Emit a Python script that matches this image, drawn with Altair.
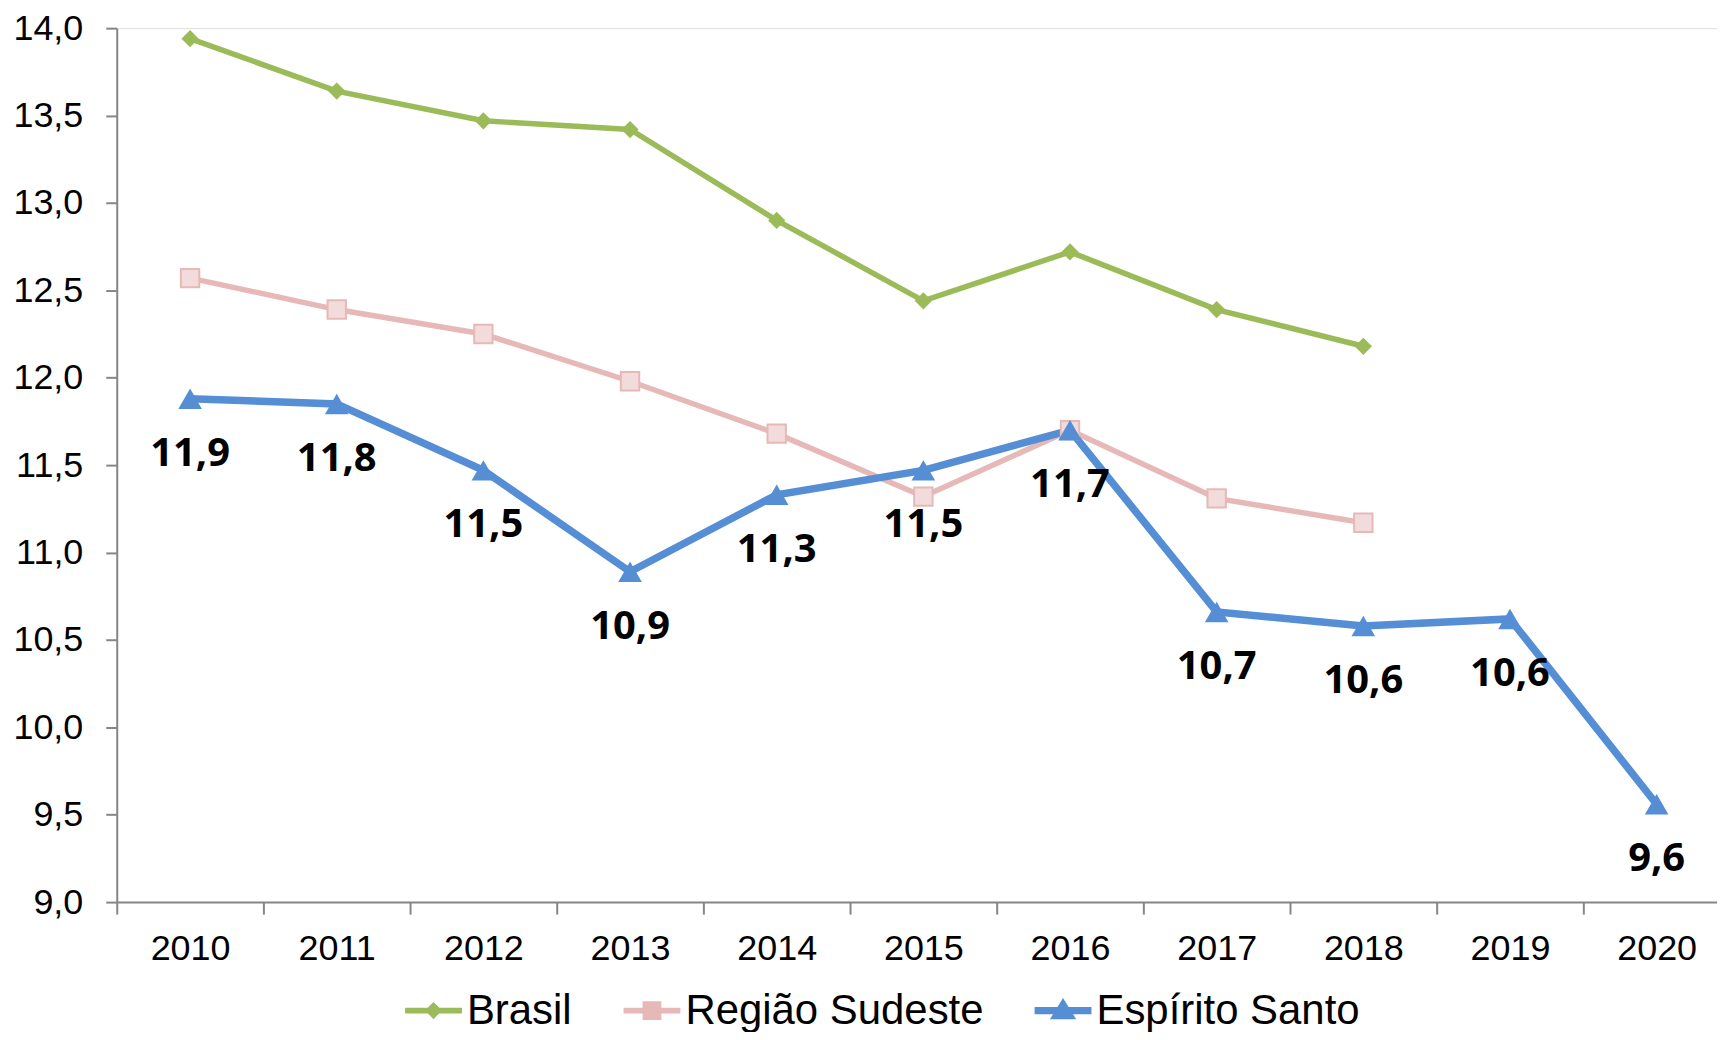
import altair as alt
import pandas as pd

anos = ["2010", "2011", "2012", "2013", "2014", "2015", "2016", "2017", "2018", "2019", "2020"]
series = ["Brasil", "Região Sudeste", "Espírito Santo"]
brasil = [13.94, 13.64, 13.47, 13.42, 12.90, 12.44, 12.72, 12.39, 12.18, None, None]
sudeste = [12.57, 12.39, 12.25, 11.98, 11.68, 11.32, 11.70, 11.31, 11.17, None, None]
espirito_santo = [11.88, 11.85, 11.47, 10.89, 11.33, 11.47, 11.70, 10.66, 10.58, 10.62, 9.56]
y_ticks = [9.0, 9.5, 10.0, 10.5, 11.0, 11.5, 12.0, 12.5, 13.0, 13.5, 14.0]

rows = []
for nome, vals in zip(series, [brasil, sudeste, espirito_santo]):
    for a, v in zip(anos, vals):
        if v is not None:
            rows.append({"ano": a, "serie": nome, "valor": v})
df = pd.DataFrame(rows)

GREEN = "#9BBB59"
PINK = "#E6B9B8"
PINK_FILL = "#F2DCDB"
BLUE = "#558ED5"
GRAY = "#868686"

legend_paths = [
    "M-1,-0.1L1,-0.1L1,0.1L-1,0.1ZM0,-0.3L0.3,0L0,0.3L-0.3,0Z",
    "M-1,-0.1L1,-0.1L1,0.1L-1,0.1ZM-0.33,-0.33L0.33,-0.33L0.33,0.33L-0.33,0.33Z",
    "M-1,-0.13L1,-0.13L1,0.13L-1,0.13ZM0,-0.44L0.46,0.3L-0.46,0.3Z",
]

x_enc = alt.X("ano:N", sort=anos, scale=alt.Scale(domain=anos, range=[0, 1617]),
              axis=alt.Axis(title=None, labelAngle=0, tickBand="extent", grid=False,
                            domainColor=GRAY, domainWidth=2, tickColor=GRAY, tickWidth=2,
                            tickSize=12, labelFont="Liberation Sans", labelFontSize=36,
                            labelColor="black", labelPadding=18))
y_enc = alt.Y("valor:Q", scale=alt.Scale(domain=[9, 14], nice=False, zero=False),
              axis=alt.Axis(title=None, values=y_ticks, grid=False,
                            labelExpr="replace(format(datum.value, '.1f'), '.', ',')",
                            domainColor=GRAY, domainWidth=2, tickColor=GRAY, tickWidth=2,
                            tickSize=11, labelFont="Liberation Sans", labelFontSize=36,
                            labelColor="black", labelPadding=23))

base = alt.Chart(df).encode(x=x_enc, y=y_enc)

def serie(nome):
    return base.transform_filter(alt.datum.serie == nome)

l_br = serie("Brasil").mark_line(color=GREEN, strokeWidth=5.5)
p_br = serie("Brasil").mark_point(shape="diamond", filled=True, color=GREEN, size=300, opacity=1)
l_se = serie("Região Sudeste").mark_line(color=PINK, strokeWidth=5.5)
p_se = serie("Região Sudeste").mark_point(shape="square", filled=True, fill=PINK_FILL,
                                          stroke=PINK, strokeWidth=2, size=340, opacity=1)
l_es = serie("Espírito Santo").mark_line(color=BLUE, strokeWidth=7.5)
p_es = serie("Espírito Santo").mark_point(shape="triangle-up", filled=True, color=BLUE,
                                          size=560, opacity=1)
t_es = serie("Espírito Santo").transform_calculate(
    rotulo="replace(format(datum.valor, '.1f'), '.', ',')"
).mark_text(font="Open Sans", fontWeight="bold", fontSize=40, color="black",
            baseline="middle", align="center", dy=55).encode(text="rotulo:N")

legenda = base.transform_filter("false").mark_point(filled=True, size=3249, opacity=1).encode(
    color=alt.Color("serie:N", scale=alt.Scale(domain=series, range=[GREEN, PINK, BLUE]),
                    legend=alt.Legend(title=None, orient="none", legendX=288, legendY=955,
                                      direction="horizontal", columnPadding=48,
                                      labelOffset=4, labelFont="Liberation Sans",
                                      labelFontSize=42, labelColor="black",
                                      symbolOpacity=1, symbolSize=3249, padding=0,
                                      labelLimit=600)),
    shape=alt.Shape("serie:N", scale=alt.Scale(domain=series, range=legend_paths)),
)

chart = alt.layer(legenda, l_br, l_se, l_es, p_br, p_se, p_es, t_es).properties(
    width=1604, height=876,
    autosize=alt.AutoSizeParams(type="none"),
    padding={"left": 109, "top": 19, "right": 0, "bottom": 129},
).configure_view(stroke=None).configure(background="white")

chart.save("out.html", embed_options={"renderer": "svg", "actions": False})
